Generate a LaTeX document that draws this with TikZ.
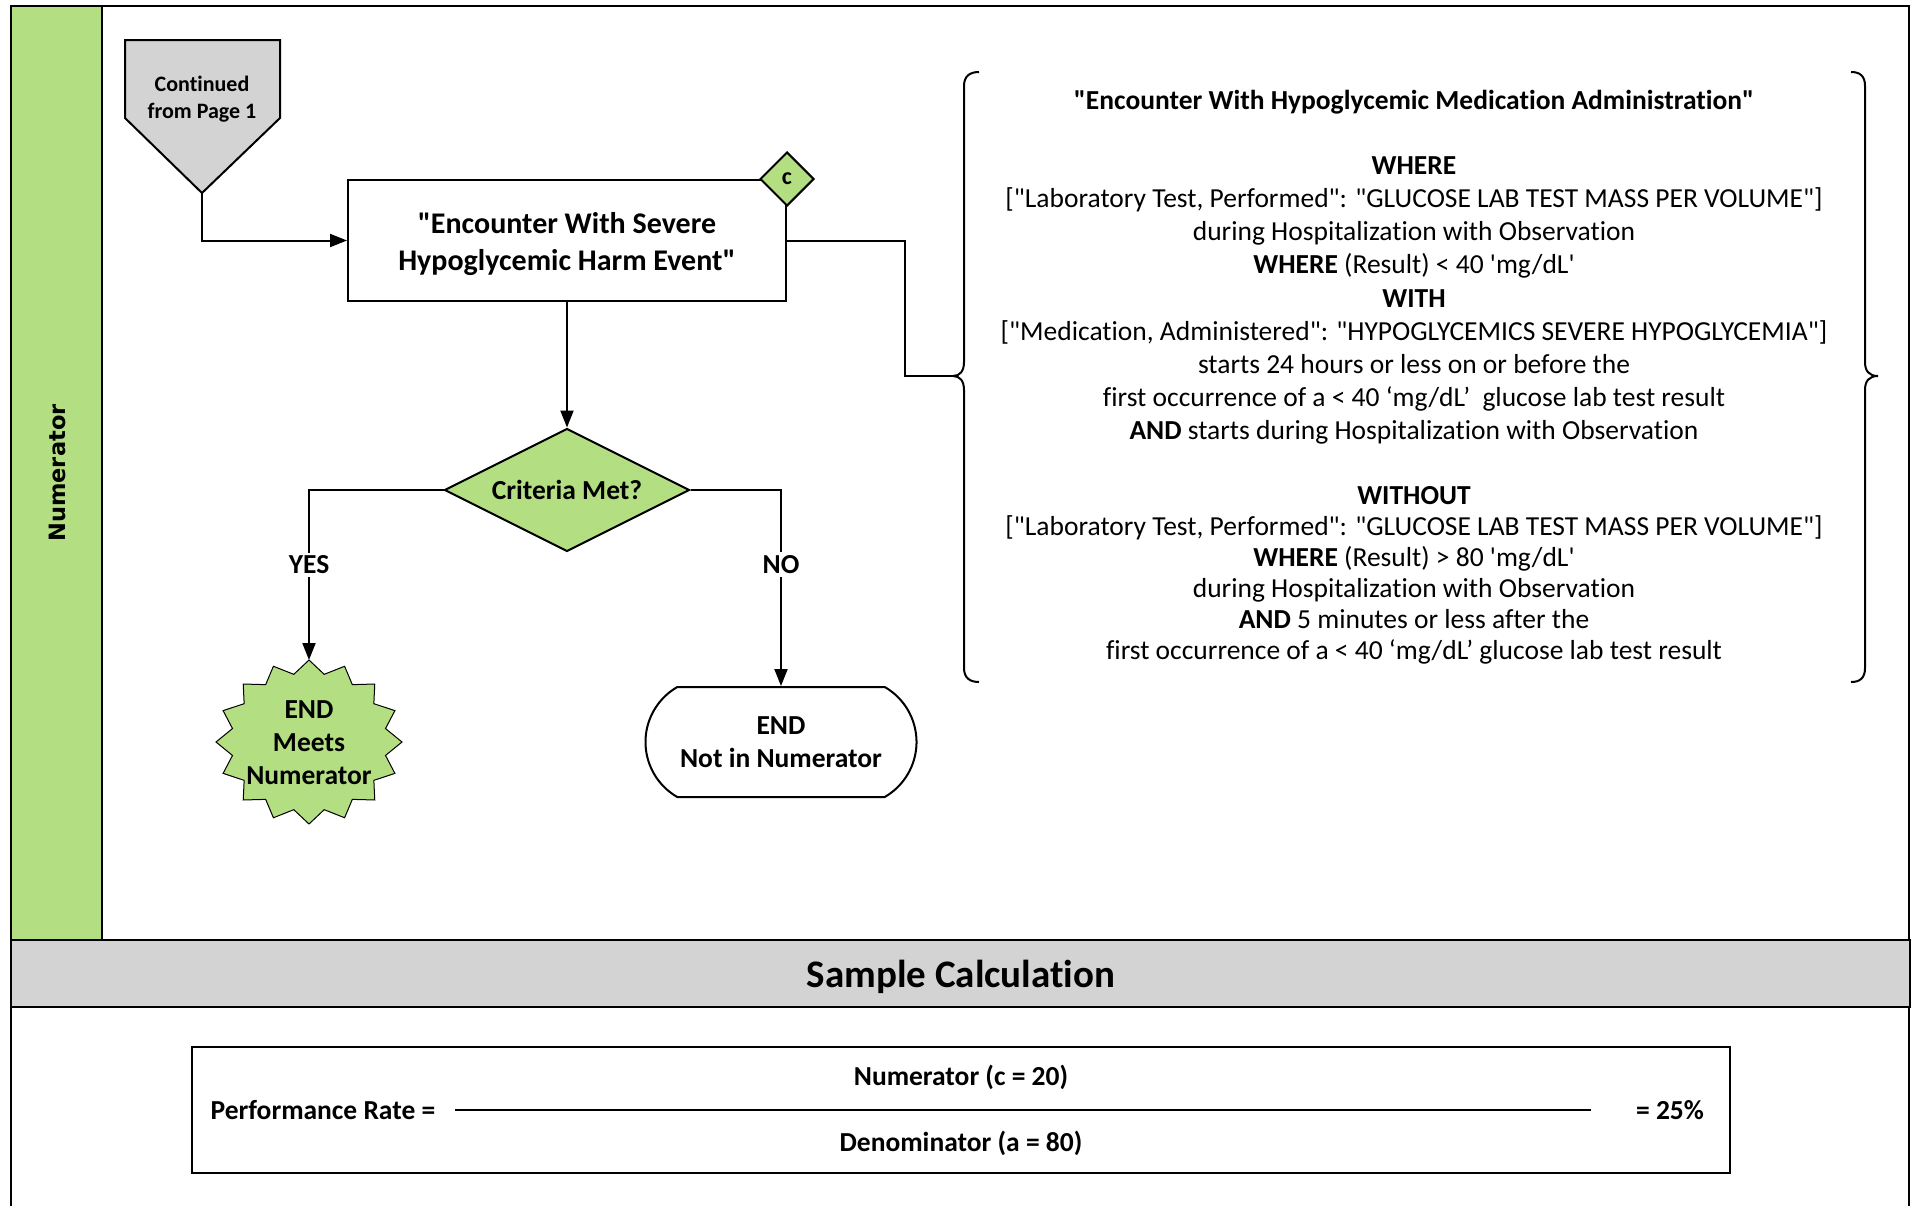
\documentclass[tikz,border=0pt]{standalone}
\usepackage{fontspec}
\setmainfont{Carlito}[Ligatures={TeXOff,NoCommon}]
\newfontfamily\lanefont{DejaVu Sans}[Ligatures=TeXOff]
\usetikzlibrary{shapes.geometric,shapes.misc,arrows.meta}
\definecolor{vert}{RGB}{179,222,129}
\definecolor{gris}{RGB}{211,211,211}
\def\largeur{1919}
\def\hauteur{1205}

\begin{document}
\begin{tikzpicture}[x=1pt, y=-1pt, line width=2pt,
    every node/.style={font=\fontsize{27.5}{33}\selectfont, align=center, inner sep=0pt},
    gras/.style={font=\fontsize{27.5}{33}\selectfont\bfseries},
    fleche/.style={-{Triangle[length=17pt, width=13pt]}},
    boite/.style={draw, fill=white, minimum width=438pt, minimum height=121pt},
    losange/.style={draw, diamond, aspect=2, fill=vert, minimum width=245pt, minimum height=123pt, gras},
    etiquette/.style={fill=white, inner sep=3pt, gras}]
    \useasboundingbox (0,0) rectangle (\largeur,\hauteur);
    \draw[line width=2.5pt] (11,6) rectangle (1909,1230);
    \draw[fill=vert] (11,6) rectangle (102,940);
    \node[rotate=90, font=\lanefont\fontsize{22.5}{27}\selectfont\bfseries] (couloir) at (57,473) {Numerator};
    \draw[fill=gris] (11,940) rectangle (1910,1007);
    \node[font=\fontsize{39}{46}\selectfont\bfseries] (entete) at (961,976.5) {Sample Calculation};
%\draw[step=100, line width=0.1mm, red!20] (0,0) grid (\largeur,\hauteur);

    % page 1 connector
    \draw[fill=gris] (125,40) -- (280,40) -- (280,118) -- (202,193) -- (125,118) -- cycle;
    \coordinate (suitebas) at (202,193);
    \node[font=\fontsize{22}{27}\selectfont\bfseries] (suite) at (202,99.5) {Continued\\from Page 1};

    \node[boite] (harm) at (567,240.5) {};
    \node[font=\fontsize{30}{37}\selectfont\bfseries] (harmtexte) at (567,244) {"Encounter With Severe\\Hypoglycemic Harm Event"};
    \node[draw, diamond, fill=vert, minimum size=54pt, font=\fontsize{24}{28}\selectfont\bfseries] (cflag) at (harm.north east) {c};
    \node[losange] (critere) at (567,490) {Criteria Met?};

    % END nodes
    \draw[fill=vert, line width=1pt] plot[samples at={0,...,31}, variable=\k]
        ({309+(93-15*mod(\k,2))*cos(90+11.25*\k)}, {742-(82-13*mod(\k,2))*sin(90+11.25*\k)}) -- cycle;
    \coordinate (etoilehaut) at (309,660);
    \node[gras] (meets) at (309,743) {END\\Meets\\Numerator};
    \node[draw, rounded rectangle, rounded rectangle arc length=120, minimum width=271pt, minimum height=110pt, gras] (nonnum) at (781,742) {END\\Not in Numerator};

    % brackets
    \draw (979,72) .. controls (970,72) and (964,76) .. (964,86) -- (964,362)
        .. controls (964,371) and (960,376) .. (953,376) .. controls (960,376) and (964,381) .. (964,390)
        -- (964,668) .. controls (964,678) and (970,682) .. (979,682);
    \coordinate (pointe) at (953,376);
    \draw (1851,72) .. controls (1860,72) and (1865,76) .. (1865,86) -- (1865,362)
        .. controls (1865,371) and (1869,376) .. (1878,376) .. controls (1869,376) and (1865,381) .. (1865,390)
        -- (1865,668) .. controls (1865,678) and (1860,682) .. (1851,682);
    \node[gras] (titre) at (1414,102.5) {"Encounter With Hypoglycemic Medication Administration"};
    \node[font=\fontsize{27.5}{33.1}\selectfont] (bloc1) at (1414,300.5) {\textbf{WHERE}\\
        {[}"Laboratory Test, Performed": "GLUCOSE LAB TEST MASS PER VOLUME"]\\
        during Hospitalization with Observation\\
        \textbf{WHERE} (Result) < 40 'mg/dL'\\
        \textbf{WITH}\\
        {[}"Medication, Administered": "HYPOGLYCEMICS SEVERE HYPOGLYCEMIA"]\\
        starts 24 hours or less on or before the\\
        first occurrence of a < 40 ‘mg/dL’~ glucose lab test result\\
        \textbf{AND} starts during Hospitalization with Observation};
    \node[font=\fontsize{27.5}{31}\selectfont] (bloc2) at (1414,575.5) {\textbf{WITHOUT}\\
        {[}"Laboratory Test, Performed": "GLUCOSE LAB TEST MASS PER VOLUME"]\\
        \textbf{WHERE} (Result) > 80 'mg/dL'\\
        during Hospitalization with Observation\\
        \textbf{AND} 5 minutes or less after the\\
        first occurrence of a < 40 ‘mg/dL’ glucose lab test result};

    % connectors
    \draw[fleche] (suitebas) |- (harm.west);
    \draw[fleche] (harm.south) -- (critere.north);
    \draw[fleche] (critere.west) -| node[etiquette, pos=0.72] (oui) {YES} (etoilehaut);
    \draw[fleche] (critere.east) -| node[etiquette, pos=0.69] (non) {NO} (nonnum.north);
    \draw (harm.east) -- ++(118,0) |- (pointe);

    % sample calculation
    \draw (192,1047) rectangle (1730,1173);
    \node[gras] (perf) at (323,1110) {Performance Rate =};
    \draw (455,1110) -- (1591,1110);
    \node[gras] (numer) at (961,1077) {Numerator (c = 20)};
    \node[gras] (denom) at (961,1143) {Denominator (a = 80)};
    \node[gras] (taux) at (1670,1110) {= 25\%};
\end{tikzpicture}
\end{document}
